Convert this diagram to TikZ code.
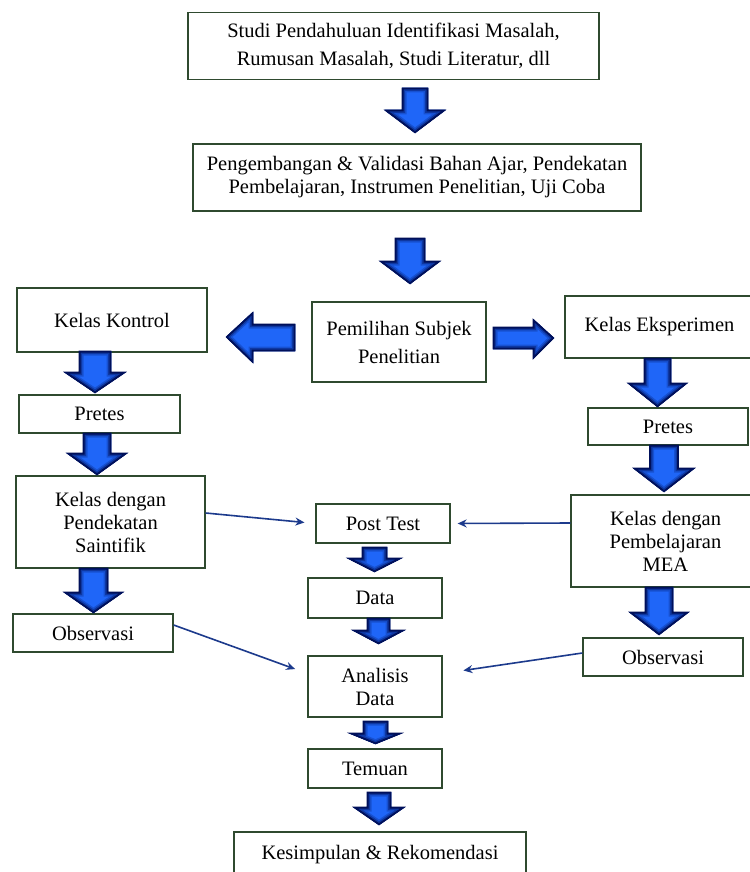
\documentclass[tikz,border=0pt]{standalone}
\usepackage{fontspec}
\setmainfont{Liberation Serif}
\usetikzlibrary{arrows.meta}
\definecolor{boxg}{HTML}{2F4A2F}
\definecolor{ablue}{HTML}{1F66F8}
\definecolor{adark}{HTML}{00105A}
\definecolor{lnk}{HTML}{1C3A8C}
\newcommand{\blk}[1]{%
  \begin{scope}
    \clip #1;
    \fill[ablue] #1;
    \draw[line width=9pt, ablue!75!adark] #1;
    \draw[line width=6pt, ablue!45!adark] #1;
    \draw[line width=3pt, adark] #1;
  \end{scope}
  \draw[adark, line width=0.6pt] #1;}
\newcommand{\bdown}[6]{\blk{({#1-#5},#2) -- ({#1+#5},#2) -- ({#1+#5},#3) -- ({#1+#6},#3) -- (#1,#4) -- ({#1-#6},#3) -- ({#1-#5},#3) -- cycle}}
\begin{document}
\begin{tikzpicture}[x=1pt,y=-1pt,
  box/.style={draw=boxg, line width=1.3pt, fill=white, align=center, inner sep=0pt,
    font=\fontsize{20.5}{23}\selectfont},
  wide/.style={font=\fontsize{20.5}{28}\selectfont},
  link/.style={draw=lnk, line width=1.6pt, -{Stealth[length=9pt,width=8pt]}}]
\useasboundingbox (0,0) rectangle (749,872);
\fill[white] (0,0) rectangle (749,872);

% boxes
\node[box, wide, minimum width=411pt, minimum height=67pt] (studi) at (393.5,46)
  {Studi Pendahuluan Identifikasi Masalah,\\ Rumusan Masalah, Studi Literatur, dll};
\node[box, minimum width=448pt, minimum height=67pt] (kembang) at (417,177.5)
  {Pengembangan \& Validasi Bahan Ajar, Pendekatan\\ Pembelajaran, Instrumen Penelitian, Uji Coba};
\node[box, wide, minimum width=174pt, minimum height=80pt] (pilih) at (399,342)
  {Pemilihan Subjek\\ Penelitian};
\node[box, minimum width=190pt, minimum height=64pt] (kontrol) at (112,320) {Kelas Kontrol};
\node[box, minimum width=161pt, minimum height=38pt] (pretesL) at (99.5,414) {Pretes};
\node[box, minimum width=189pt, minimum height=92pt] (sain) at (110.5,522)
  {Kelas dengan\\ Pendekatan\\ Saintifik};
\node[box, minimum width=160pt, minimum height=38pt] (obsL) at (93,633) {Observasi};
\node[box, minimum width=189pt, minimum height=62pt] (eksp) at (659.5,327) {Kelas Eksperimen};
\node[box, minimum width=160pt, minimum height=37pt] (pretesR) at (668,426.5) {Pretes};
\node[box, minimum width=189pt, minimum height=92pt] (mea) at (665.5,541)
  {Kelas dengan\\ Pembelajaran\\ MEA};
\node[box, minimum width=160pt, minimum height=38pt] (obsR) at (663,657) {Observasi};
\node[box, minimum width=134pt, minimum height=39pt] (post) at (383,523.5) {Post Test};
\node[box, minimum width=134pt, minimum height=40pt] (data) at (375,598) {Data};
\node[box, minimum width=134pt, minimum height=61pt] (ana) at (375,686.5) {Analisis\\ Data};
\node[box, minimum width=134pt, minimum height=39pt] (temu) at (375,768.5) {Temuan};
\node[box, minimum width=292pt, minimum height=46pt] (simpul) at (380,855)
  {Kesimpulan \& Rekomendasi};

% block arrows
\bdown{415}{88}{110}{133}{13}{30.5}
\bdown{410}{238}{261}{284}{15}{30.5}
\bdown{95}{351}{372}{393}{16}{31}
\bdown{97}{433}{453}{475}{14}{30.5}
\bdown{93.5}{568}{592}{613}{14.5}{30}
\bdown{657.5}{358}{383}{407}{13.5}{30}
\bdown{664}{445}{468}{492}{14.5}{31}
\bdown{659}{587}{612}{635}{14}{30}
\bdown{374.5}{547}{558}{572}{12.5}{27.5}
\bdown{378.5}{618}{630}{644}{11.5}{26.5}
\bdown{375.5}{721}{733}{744}{12.5}{27}
\bdown{379}{792}{807}{825}{12}{26}
\blk{(295,324) -- (295,351) -- (253,351) -- (253,363) -- (226,337) -- (253,312) -- (253,324) -- cycle}
\blk{(493,327) -- (533,327) -- (533,319) -- (554,338) -- (533,359) -- (533,349) -- (493,349) -- cycle}

% thin connectors
\draw[link, shorten >=11pt] ([yshift=9pt]sain.east) -- (post.west);
\draw[link, shorten >=7pt] ([yshift=18pt]mea.west) -- (post.east);
\draw[link, shorten >=13pt] ([yshift=8pt]obsL.east) -- ([yshift=13pt]ana.west);
\draw[link, shorten >=21pt] ([yshift=4pt]obsR.west) -- ([yshift=13pt]ana.east);
\end{tikzpicture}
\end{document}
